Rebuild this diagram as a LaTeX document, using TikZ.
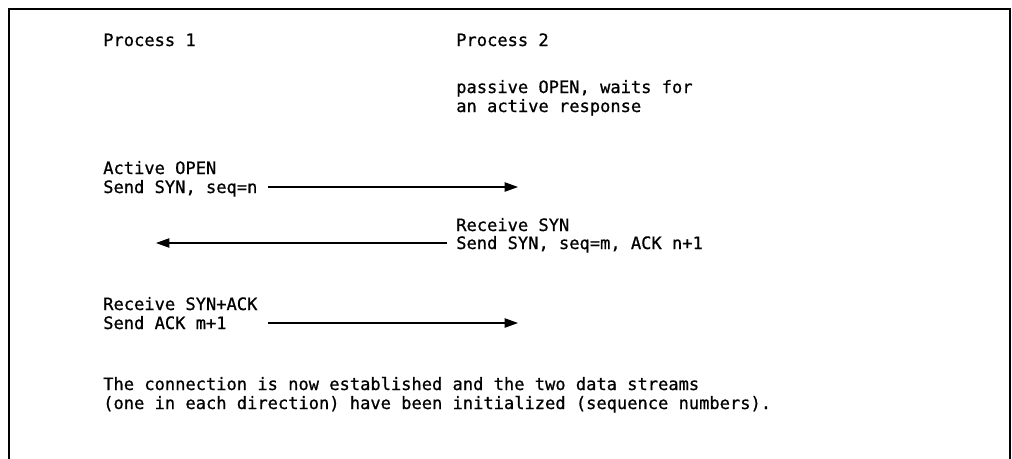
\documentclass[tikz,border=0pt]{standalone}
\usepackage{fontspec}
\newfontfamily\seqfont[FakeBold=0.8]{DejaVu Sans Mono}
\usetikzlibrary{arrows.meta}
\begin{document}
\begin{tikzpicture}[x=0.75pt,y=-0.75pt,
  txt/.style={anchor=base west, inner sep=0pt,
    font=\seqfont\fontsize{12.8}{14.25}\selectfont},
  msg/.style={-{Triangle[length=10pt,width=7pt]}, line width=0.8pt},
  frame/.style={line width=1.1pt}]
\useasboundingbox (0,0) rectangle (1012,458);

% open-bottom frame
\draw[frame] (9,460) -- (9,9) -- (1010,9) -- (1010,460);

% column headings
\node[txt] (p1) at (103,46) {Process 1};
\node[txt] (p2) at (456,46) {Process 2};

% process 2 waits
\node[txt] (pas1) at (456,93)  {passive OPEN, waits for};
\node[txt] (pas2) at (456,112) {an active response};

% step 1: SYN
\node[txt] (act1) at (103,174) {Active OPEN};
\node[txt] (act2) at (103,193) {Send SYN, seq=n};
\coordinate (m1s) at (268,187);
\coordinate (m1e) at (518,187);
\draw[msg] (m1s) -- (m1e);

% step 2: SYN+ACK
\node[txt] (rcv1) at (456,231) {Receive SYN};
\node[txt] (rcv2) at (456,249) {Send SYN, seq=m, ACK n+1};
\coordinate (m2s) at (447,243);
\coordinate (m2e) at (156,243);
\draw[msg] (m2s) -- (m2e);

% step 3: ACK
\node[txt] (ack1) at (103,310) {Receive SYN+ACK};
\node[txt] (ack2) at (103,329) {Send ACK m+1};
\coordinate (m3s) at (268,323);
\coordinate (m3e) at (518,323);
\draw[msg] (m3s) -- (m3e);

% closing remark
\node[txt] (fin1) at (103,390) {The connection is now established and the two data streams};
\node[txt] (fin2) at (103,409) {(one in each direction) have been initialized (sequence numbers).};
\end{tikzpicture}
\end{document}
